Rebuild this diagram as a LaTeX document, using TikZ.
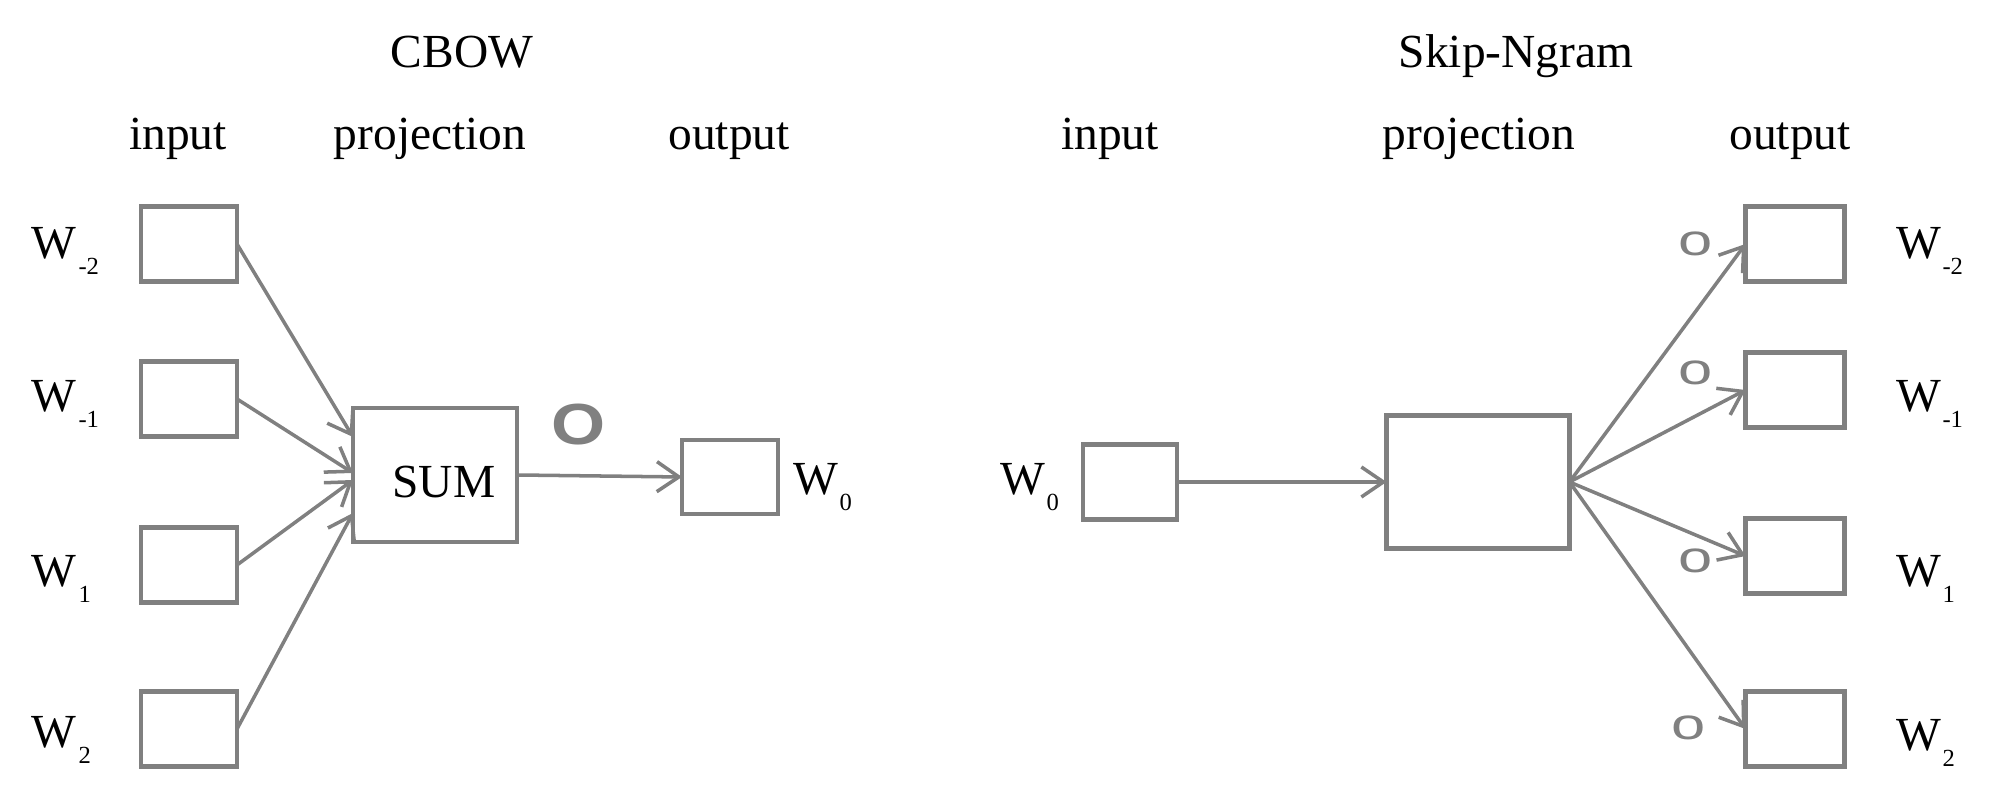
\documentclass[tikz,border=0pt]{standalone}
\usepackage{fontspec}
\setmainfont{Liberation Serif}
\newfontfamily\lsans{Liberation Sans}
\usetikzlibrary{arrows.meta}
\definecolor{boxgray}{RGB}{128,128,128}
\newcommand{\wlab}[1]{W\kern0.5pt\raisebox{-4.5pt}{\fontsize{7}{8}\selectfont #1}}

\begin{document}
\begin{tikzpicture}[x=0.1mm,y=-0.1mm,
  every node/.style={inner sep=0pt,outer sep=0pt},
  txt/.style={font=\fontsize{13.5}{16}\selectfont},
  wbox/.style={draw=boxgray,line width=1.2pt,minimum width=9.6mm,minimum height=7.5mm},
  arr/.style={draw=boxgray,line width=1pt,-{Straight Barb[length=2.2mm,width=3mm]}},
  circ/.style={text=boxgray,font=\lsans\fontsize{12.5}{14}\selectfont}]

\useasboundingbox (0,0) rectangle (2000,797);

% CBOW
\node[txt,anchor=base] (cbow) at (462,68) {CBOW};
\node[txt,anchor=base] (inL) at (178,150) {input};
\node[txt,anchor=base] (projL) at (430,150) {projection};
\node[txt,anchor=base] (outL) at (729,150) {output};

\node[wbox] (wm2) at (189,244) {};
\node[wbox] (wm1) at (189,399) {};
\node[wbox] (wp1) at (189,565) {};
\node[wbox] (wp2) at (189,729) {};

\node[txt,anchor=base west] (lm2) at (32,259) {\wlab{-2}};
\node[txt,anchor=base west] (lm1) at (32,412) {\wlab{-1}};
\node[txt,anchor=base west] (lp1) at (32,587) {\wlab{1}};
\node[txt,anchor=base west] (lp2) at (32,748) {\wlab{2}};

\node[wbox,minimum width=16.4mm,minimum height=13.4mm] (sum) at (435,475) {};
\node[txt] (sumtxt) at (444,482) {SUM};
\node[wbox,minimum width=9.6mm,minimum height=7.4mm] (w0out) at (730,477) {};
\node[txt,anchor=base west] (l0out) at (793,495) {\wlab{0}};
\node[text=boxgray,font=\lsans\bfseries\fontsize{16.5}{18}\selectfont] (bigo) at (579,425) {\scalebox{1.2}[1]{O}};

\draw[arr] (wm2.east) -- ([yshift=3.8mm]sum.west);
\draw[arr] (wm1.east) -- ([yshift=0.2mm]sum.west);
\draw[arr] (wp1.east) -- ([yshift=-0.5mm]sum.west);
\draw[arr] (wp2.east) -- ([yshift=-3.8mm]sum.west);
\draw[arr] (sum.east) -- (w0out.west);

% Skip-Ngram
\node[txt,anchor=base] (skip) at (1516,68) {Skip-Ngram};
\node[txt,anchor=base] (inR) at (1110,150) {input};
\node[txt,anchor=base] (projR) at (1479,150) {projection};
\node[txt,anchor=base] (outR) at (1790,150) {output};

\node[wbox,minimum width=9.4mm,minimum height=7.5mm] (w0in) at (1130,482) {};
\node[txt,anchor=base west] (l0in) at (1000,495) {\wlab{0}};
\node[wbox,minimum width=18.3mm,minimum height=13.3mm] (proj) at (1478,482) {};

\node[wbox,minimum width=9.9mm] (om2) at (1795,244) {};
\node[wbox,minimum width=9.9mm] (om1) at (1795,390) {};
\node[wbox,minimum width=9.9mm] (op1) at (1795,556) {};
\node[wbox,minimum width=9.9mm] (op2) at (1795,729) {};

\node[txt,anchor=base west] (rm2) at (1896,259) {\wlab{-2}};
\node[txt,anchor=base west] (rm1) at (1896,412) {\wlab{-1}};
\node[txt,anchor=base west] (rp1) at (1896,587) {\wlab{1}};
\node[txt,anchor=base west] (rp2) at (1896,751) {\wlab{2}};

\node[circ] (cm2) at (1696,244) {\scalebox{1.4}[1]{o}};
\node[circ] (cm1) at (1696,373) {\scalebox{1.4}[1]{o}};
\node[circ] (cp1) at (1696,561) {\scalebox{1.4}[1]{o}};
\node[circ] (cp2) at (1689,728) {\scalebox{1.4}[1]{o}};

\draw[arr] (w0in.east) -- (proj.west);
\draw[arr] (proj.east) -- (om2.west);
\draw[arr] (proj.east) -- (om1.west);
\draw[arr] (proj.east) -- (op1.west);
\draw[arr] (proj.east) -- (op2.west);

\end{tikzpicture}
\end{document}
